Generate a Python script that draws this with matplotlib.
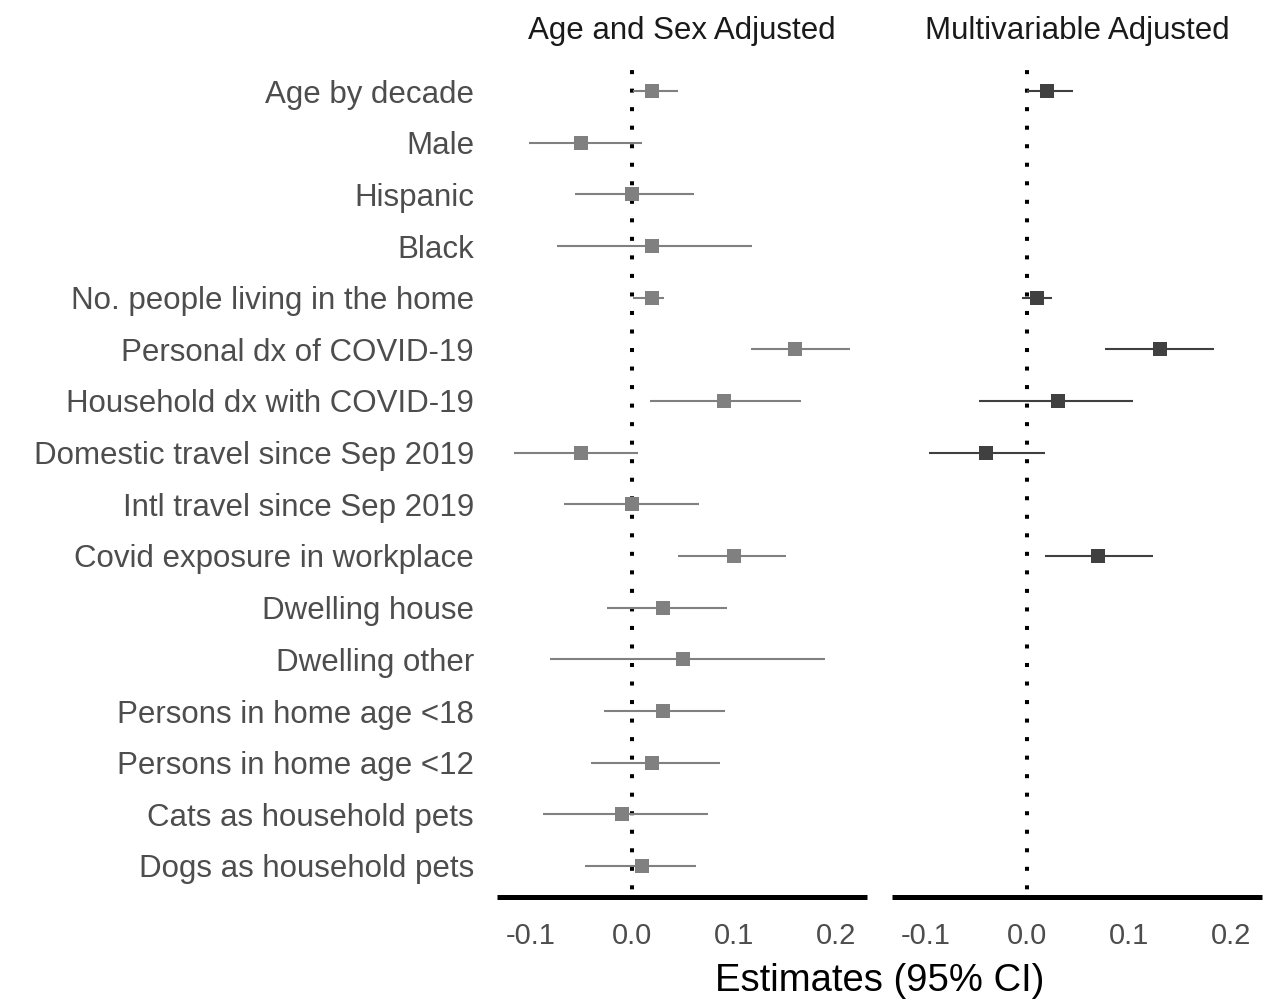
import matplotlib
matplotlib.use('Agg')
import matplotlib.pyplot as plt

plt.rcParams['font.family'] = ['Liberation Sans', 'DejaVu Sans']

labels = [
    'Age by decade', 'Male', 'Hispanic', 'Black', 'No. people living in the home',
    'Personal dx of COVID-19', 'Household dx with COVID-19', 'Domestic travel since Sep 2019',
    'Intl travel since Sep 2019', 'Covid exposure in workplace', 'Dwelling house',
    'Dwelling other', 'Persons in home age <18', 'Persons in home age <12',
    'Cats as household pets', 'Dogs as household pets',
]

# age and sex adjusted estimates with 95% CI
adj_est = [0.02, -0.05, 0.0, 0.02, 0.02, 0.16, 0.09, -0.05, 0.0, 0.10, 0.03, 0.05, 0.03, 0.02, -0.01, 0.01]
adj_lo = [0.001, -0.101, -0.056, -0.074, 0.001, 0.117, 0.018, -0.116, -0.067, 0.045, -0.025, -0.081, -0.028, -0.040, -0.087, -0.046]
adj_hi = [0.045, 0.010, 0.061, 0.118, 0.031, 0.214, 0.166, 0.006, 0.066, 0.151, 0.093, 0.189, 0.091, 0.086, 0.074, 0.063]

# multivariable model, only variables kept in the final model
multi_labels = ['Age by decade', 'No. people living in the home', 'Personal dx of COVID-19',
                'Household dx with COVID-19', 'Domestic travel since Sep 2019', 'Covid exposure in workplace']
multi_est = [0.02, 0.01, 0.13, 0.03, -0.04, 0.07]
multi_lo = [0.0, -0.005, 0.076, -0.047, -0.096, 0.018]
multi_hi = [0.045, 0.024, 0.183, 0.104, 0.018, 0.124]

xticks = [-0.1, 0.0, 0.1, 0.2]
xticklabels = ['-0.1', '0.0', '0.1', '0.2']

W, H = 1277, 1005
fig = plt.figure(figsize=(W / 100, H / 100), dpi=100)

top, bottom = 60, 897
ax1 = fig.add_axes([497 / W, 1 - bottom / H, 370 / W, (bottom - top) / H])
ax2 = fig.add_axes([892 / W, 1 - bottom / H, 370 / W, (bottom - top) / H])

rows = list(range(1, len(labels) + 1))
row_of = dict(zip(labels, rows))


def panel(ax, names, est, lo, hi, color, title):
    ys = [row_of[n] for n in names]
    ax.axvline(0, color='black', lw=2.9, linestyle=(2.7, (1, 3.6)), zorder=1)
    ax.hlines(ys, lo, hi, color=color, lw=1.5, zorder=2)
    ax.plot(est, ys, 's', color=color, markersize=9.6, markeredgewidth=0, zorder=3)
    ax.set_xlim(-0.1326, 0.2305)
    ax.set_ylim(len(labels) + 0.6, 0.4)
    for side in ['top', 'left', 'right']:
        ax.spines[side].set_visible(False)
    ax.spines['bottom'].set_linewidth(3.6)
    ax.spines['bottom'].set_color('black')
    ax.spines['bottom'].set_capstyle('butt')
    ax.set_xticks(xticks)
    ax.set_xticklabels(xticklabels, fontsize=21, color='#4d4d4d')
    ax.tick_params(axis='x', length=0, pad=18)
    ax.tick_params(axis='y', length=0)
    pos = ax.get_position()
    fig.text(pos.x0 + pos.width / 2, 1 - 31 / H, title, ha='center', va='center',
             fontsize=22.5, color='#1a1a1a')


panel(ax1, labels, adj_est, adj_lo, adj_hi, '#808080', 'Age and Sex Adjusted')
panel(ax2, multi_labels, multi_est, multi_lo, multi_hi, '#404040', 'Multivariable Adjusted')

ax1.set_yticks(rows)
ax1.set_yticklabels(labels, fontsize=22.5, color='#4d4d4d')
ax1.tick_params(axis='y', pad=16.5)
ax2.set_yticks([])

fig.text(879.5 / W, 1 - 981 / H, 'Estimates (95% CI)', ha='center', va='center', fontsize=27.5, color='black')

fig.savefig('out.png', dpi=100, facecolor='white')
